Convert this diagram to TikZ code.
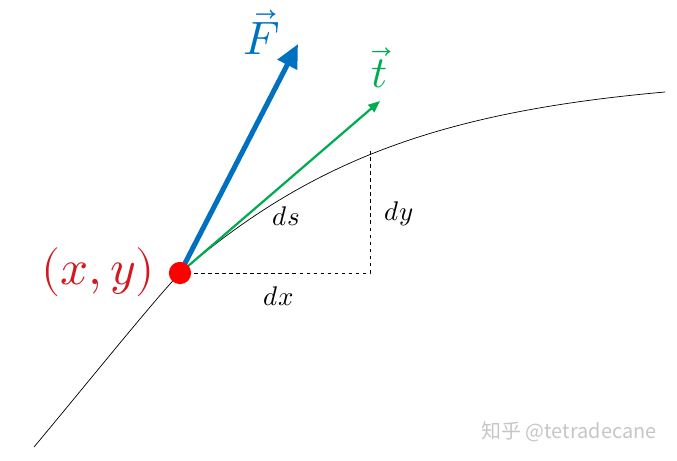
\documentclass[tikz,border=0pt]{standalone}
\usepackage{fontspec}
\usepackage{unicode-math}
\setmathfont{Latin Modern Math}
\usetikzlibrary{arrows.meta,positioning,calc,backgrounds}
\newfontfamily\cjkfont{Noto Sans CJK SC}
\definecolor{forceblue}{RGB}{0,112,192}
\definecolor{tangreen}{RGB}{0,172,80}
\definecolor{pointred}{RGB}{255,0,0}
\definecolor{labelred}{RGB}{210,25,30}

\begin{document}
\begin{tikzpicture}[x=0.03cm, y=-0.03cm,
    curve/.style={black, line width=0.6pt},
    forcevec/.style={forceblue, line width=4.3pt, -{Triangle[length=20pt,width=18pt]}},
    tanvec/.style={tangreen, line width=1.9pt, -{Triangle[length=10pt,width=8pt]}},
    dimline/.style={black, dashed, line width=0.6pt},
    diff/.style={font=\fontsize{23}{27}\selectfont, inner sep=0pt}]
    \useasboundingbox (0,0) rectangle (677,461);
    % curve and point
    \coordinate (start) at (34,447);
    \coordinate (stop) at (665,92);
    \node [circle, fill=pointred, minimum size=19pt, inner sep=0pt] (P) at (180,273) {};
    \coordinate (Ftip) at (298,44);
    \coordinate (ttip) at (380,101);
    \coordinate (corner) at (370,273);
    \coordinate (top) at (370,151);
    \begin{scope}[on background layer]
    \draw [curve] (start) .. controls (90,380) and (150,305) .. (P.center)
        .. controls (310,161) and (440,112) .. (stop);
    % dx and dy
    \draw [dimline] (P.center) -- (corner) -- (top);
    % vectors
    \draw [forcevec] (P.center) -- (Ftip);
    \draw [tanvec] (P.center) -- (ttip);
    \end{scope}
    % labels
    \node [forceblue, font=\fontsize{40}{48}\selectfont, inner sep=0pt] (Flabel) at (262,32) {$\vec{F}$};
    \node [tangreen, font=\fontsize{38}{46}\selectfont, inner sep=0pt] (tlabel) at (380,68) {$\vec{t}$};
    \node [diff] (ds) at (286,216) {$ds$};
    \node [diff] (dy) at (399,214) {$dy$};
    \node [diff] (dx) at (279,296) {$dx$};
    \node [labelred, font=\fontsize{42}{50}\selectfont, inner sep=0pt] (xy) at (98,272) {$(x,y)$};
    \node [gray!45, font=\cjkfont\fontsize{17}{20}\selectfont, inner sep=0pt] (mark) at (569,432) {知乎 @tetradecane};
\end{tikzpicture}
\end{document}
